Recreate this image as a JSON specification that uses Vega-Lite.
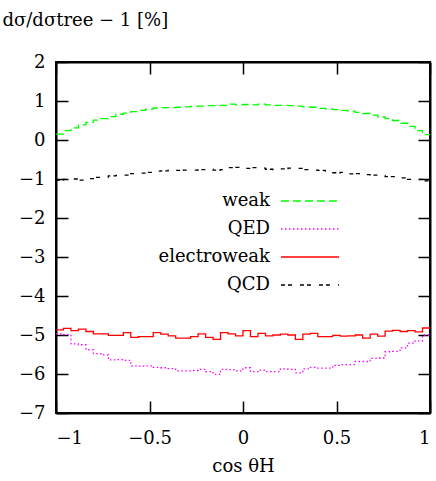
{
  "$schema": "https://vega.github.io/schema/vega-lite/v6.json",
  "width": 374,
  "height": 351,
  "autosize": "none",
  "padding": {"left": 56, "top": 62, "right": 6, "bottom": 68},
  "config": {
    "font": "DejaVu Serif",
    "view": {"stroke": "black", "strokeWidth": 2},
    "axis": {
      "grid": false,
      "labelFont": "DejaVu Serif",
      "labelFontSize": 18,
      "labelColor": "black",
      "titleFont": "DejaVu Serif",
      "titleFontSize": 18,
      "titleFontWeight": "normal",
      "titleColor": "black",
      "domainColor": "black",
      "domainWidth": 2,
      "tickColor": "black",
      "tickWidth": 1.5,
      "tickSize": -12
    },
    "legend": {
      "orient": "none",
      "legendX": 242,
      "legendY": 127,
      "title": null,
      "symbolType": "M-2.64,0H2.64",
      "symbolSize": 484,
      "symbolStrokeWidth": 1.3,
      "labelFont": "DejaVu Serif",
      "labelFontSize": 18,
      "labelColor": "black",
      "labelAlign": "right",
      "labelOffset": -52,
      "symbolOffset": 0,
      "rowPadding": 7,
      "padding": 0
    }
  },
  "data": {
    "values": [
      {"c": -1.00, "weak": 0.15, "QED": -4.97, "electroweak": -4.87, "QCD": -1.03},
      {"c": -0.96, "weak": 0.24, "QED": -4.99, "electroweak": -4.83, "QCD": -1.01},
      {"c": -0.92, "weak": 0.31, "QED": -5.23, "electroweak": -4.89, "QCD": -1.00},
      {"c": -0.88, "weak": 0.39, "QED": -5.25, "electroweak": -4.85, "QCD": -1.03},
      {"c": -0.84, "weak": 0.45, "QED": -5.38, "electroweak": -4.91, "QCD": -0.99},
      {"c": -0.80, "weak": 0.51, "QED": -5.48, "electroweak": -4.97, "QCD": -0.96},
      {"c": -0.76, "weak": 0.55, "QED": -5.51, "electroweak": -4.97, "QCD": -0.95},
      {"c": -0.72, "weak": 0.60, "QED": -5.64, "electroweak": -5.01, "QCD": -0.92},
      {"c": -0.68, "weak": 0.66, "QED": -5.63, "electroweak": -5.01, "QCD": -0.91},
      {"c": -0.64, "weak": 0.69, "QED": -5.65, "electroweak": -4.94, "QCD": -0.90},
      {"c": -0.60, "weak": 0.73, "QED": -5.79, "electroweak": -5.06, "QCD": -0.86},
      {"c": -0.56, "weak": 0.76, "QED": -5.80, "electroweak": -5.04, "QCD": -0.85},
      {"c": -0.52, "weak": 0.79, "QED": -5.79, "electroweak": -5.04, "QCD": -0.83},
      {"c": -0.48, "weak": 0.82, "QED": -5.83, "electroweak": -4.94, "QCD": -0.80},
      {"c": -0.44, "weak": 0.83, "QED": -5.84, "electroweak": -4.98, "QCD": -0.79},
      {"c": -0.40, "weak": 0.83, "QED": -5.86, "electroweak": -5.02, "QCD": -0.77},
      {"c": -0.36, "weak": 0.84, "QED": -5.92, "electroweak": -5.08, "QCD": -0.78},
      {"c": -0.32, "weak": 0.85, "QED": -5.92, "electroweak": -5.08, "QCD": -0.77},
      {"c": -0.28, "weak": 0.86, "QED": -5.91, "electroweak": -5.04, "QCD": -0.77},
      {"c": -0.24, "weak": 0.87, "QED": -5.88, "electroweak": -4.97, "QCD": -0.76},
      {"c": -0.20, "weak": 0.88, "QED": -5.94, "electroweak": -5.06, "QCD": -0.75},
      {"c": -0.16, "weak": 0.88, "QED": -6.01, "electroweak": -5.11, "QCD": -0.77},
      {"c": -0.12, "weak": 0.89, "QED": -5.88, "electroweak": -4.94, "QCD": -0.76},
      {"c": -0.08, "weak": 0.92, "QED": -5.89, "electroweak": -4.97, "QCD": -0.71},
      {"c": -0.04, "weak": 0.90, "QED": -5.92, "electroweak": -5.02, "QCD": -0.70},
      {"c": 0.00, "weak": 0.91, "QED": -5.84, "electroweak": -4.89, "QCD": -0.73},
      {"c": 0.04, "weak": 0.90, "QED": -5.94, "electroweak": -5.04, "QCD": -0.71},
      {"c": 0.08, "weak": 0.92, "QED": -5.90, "electroweak": -4.96, "QCD": -0.72},
      {"c": 0.12, "weak": 0.90, "QED": -5.94, "electroweak": -5.02, "QCD": -0.75},
      {"c": 0.16, "weak": 0.89, "QED": -5.94, "electroweak": -5.00, "QCD": -0.76},
      {"c": 0.20, "weak": 0.89, "QED": -5.87, "electroweak": -4.98, "QCD": -0.74},
      {"c": 0.24, "weak": 0.88, "QED": -5.88, "electroweak": -5.00, "QCD": -0.72},
      {"c": 0.28, "weak": 0.87, "QED": -5.97, "electroweak": -5.11, "QCD": -0.73},
      {"c": 0.32, "weak": 0.85, "QED": -5.87, "electroweak": -4.98, "QCD": -0.76},
      {"c": 0.36, "weak": 0.84, "QED": -5.83, "electroweak": -4.96, "QCD": -0.77},
      {"c": 0.40, "weak": 0.81, "QED": -5.85, "electroweak": -5.04, "QCD": -0.78},
      {"c": 0.44, "weak": 0.80, "QED": -5.85, "electroweak": -5.04, "QCD": -0.82},
      {"c": 0.48, "weak": 0.78, "QED": -5.78, "electroweak": -5.01, "QCD": -0.84},
      {"c": 0.52, "weak": 0.76, "QED": -5.76, "electroweak": -5.03, "QCD": -0.83},
      {"c": 0.56, "weak": 0.74, "QED": -5.76, "electroweak": -5.02, "QCD": -0.87},
      {"c": 0.60, "weak": 0.71, "QED": -5.68, "electroweak": -5.00, "QCD": -0.86},
      {"c": 0.64, "weak": 0.68, "QED": -5.68, "electroweak": -5.08, "QCD": -0.89},
      {"c": 0.68, "weak": 0.64, "QED": -5.60, "electroweak": -4.98, "QCD": -0.90},
      {"c": 0.72, "weak": 0.59, "QED": -5.59, "electroweak": -5.03, "QCD": -0.91},
      {"c": 0.76, "weak": 0.55, "QED": -5.43, "electroweak": -4.90, "QCD": -0.94},
      {"c": 0.80, "weak": 0.50, "QED": -5.42, "electroweak": -4.88, "QCD": -0.94},
      {"c": 0.84, "weak": 0.43, "QED": -5.33, "electroweak": -4.91, "QCD": -0.97},
      {"c": 0.88, "weak": 0.35, "QED": -5.21, "electroweak": -4.89, "QCD": -1.01},
      {"c": 0.92, "weak": 0.24, "QED": -5.15, "electroweak": -4.92, "QCD": -1.01},
      {"c": 0.96, "weak": 0.14, "QED": -5.00, "electroweak": -4.82, "QCD": -1.05},
      {"c": 1.00, "weak": 0.14, "QED": -5.00, "electroweak": -4.82, "QCD": -1.05}
    ]
  },
  "transform": [
    {"fold": ["weak", "QED", "electroweak", "QCD"], "as": ["series", "value"]}
  ],
  "layer": [
    {
      "mark": {"type": "line", "interpolate": "step-after", "strokeWidth": 1.3},
      "encoding": {
        "x": {
          "field": "c",
          "type": "quantitative",
          "scale": {"domain": [-1, 1], "nice": false},
          "axis": {
            "orient": "bottom",
            "values": [-1, -0.5, 0, 0.5, 1],
            "format": "~g",
            "labelPadding": 28,
            "title": "cos θH",
            "titleY": 53,
            "titleBaseline": "middle"
          }
        },
        "y": {
          "field": "value",
          "type": "quantitative",
          "scale": {"domain": [-7, 2], "nice": false},
          "axis": {
            "orient": "left",
            "values": [-7, -6, -5, -4, -3, -2, -1, 0, 1, 2],
            "labelPadding": 23,
            "title": "dσ/dσtree − 1 [%]",
            "titleFontSize": 18,
            "titleAngle": 0,
            "titleAlign": "left",
            "titleBaseline": "middle",
            "titleX": -54,
            "titleY": -42
          }
        },
        "color": {
          "field": "series",
          "type": "nominal",
          "sort": ["weak", "QED", "electroweak", "QCD"],
          "scale": {
            "domain": ["weak", "QED", "electroweak", "QCD"],
            "range": ["#00ff00", "#ff00ff", "#ff0000", "#000000"]
          }
        },
        "strokeDash": {
          "field": "series",
          "type": "nominal",
          "sort": ["weak", "QED", "electroweak", "QCD"],
          "scale": {
            "domain": ["weak", "QED", "electroweak", "QCD"],
            "range": [[8, 4], [1.5, 2.5], [1, 0], [4, 3, 4, 8]]
          }
        }
      }
    },
    {
      "mark": {"type": "point", "opacity": 0},
      "encoding": {
        "x": {
          "field": "c",
          "type": "quantitative",
          "scale": {"domain": [-1, 1], "nice": false},
          "axis": {"orient": "top", "labels": false, "title": null, "ticks": true, "tickSize": -12, "values": [-1, -0.5, 0, 0.5, 1]}
        },
        "y": {
          "field": "value",
          "type": "quantitative",
          "scale": {"domain": [-7, 2], "nice": false},
          "axis": {"orient": "right", "labels": false, "title": null, "ticks": true, "tickSize": -12, "values": [-7, -6, -5, -4, -3, -2, -1, 0, 1, 2]}
        }
      }
    }
  ],
  "resolve": {"scale": {"x": "independent", "y": "independent"}}
}
